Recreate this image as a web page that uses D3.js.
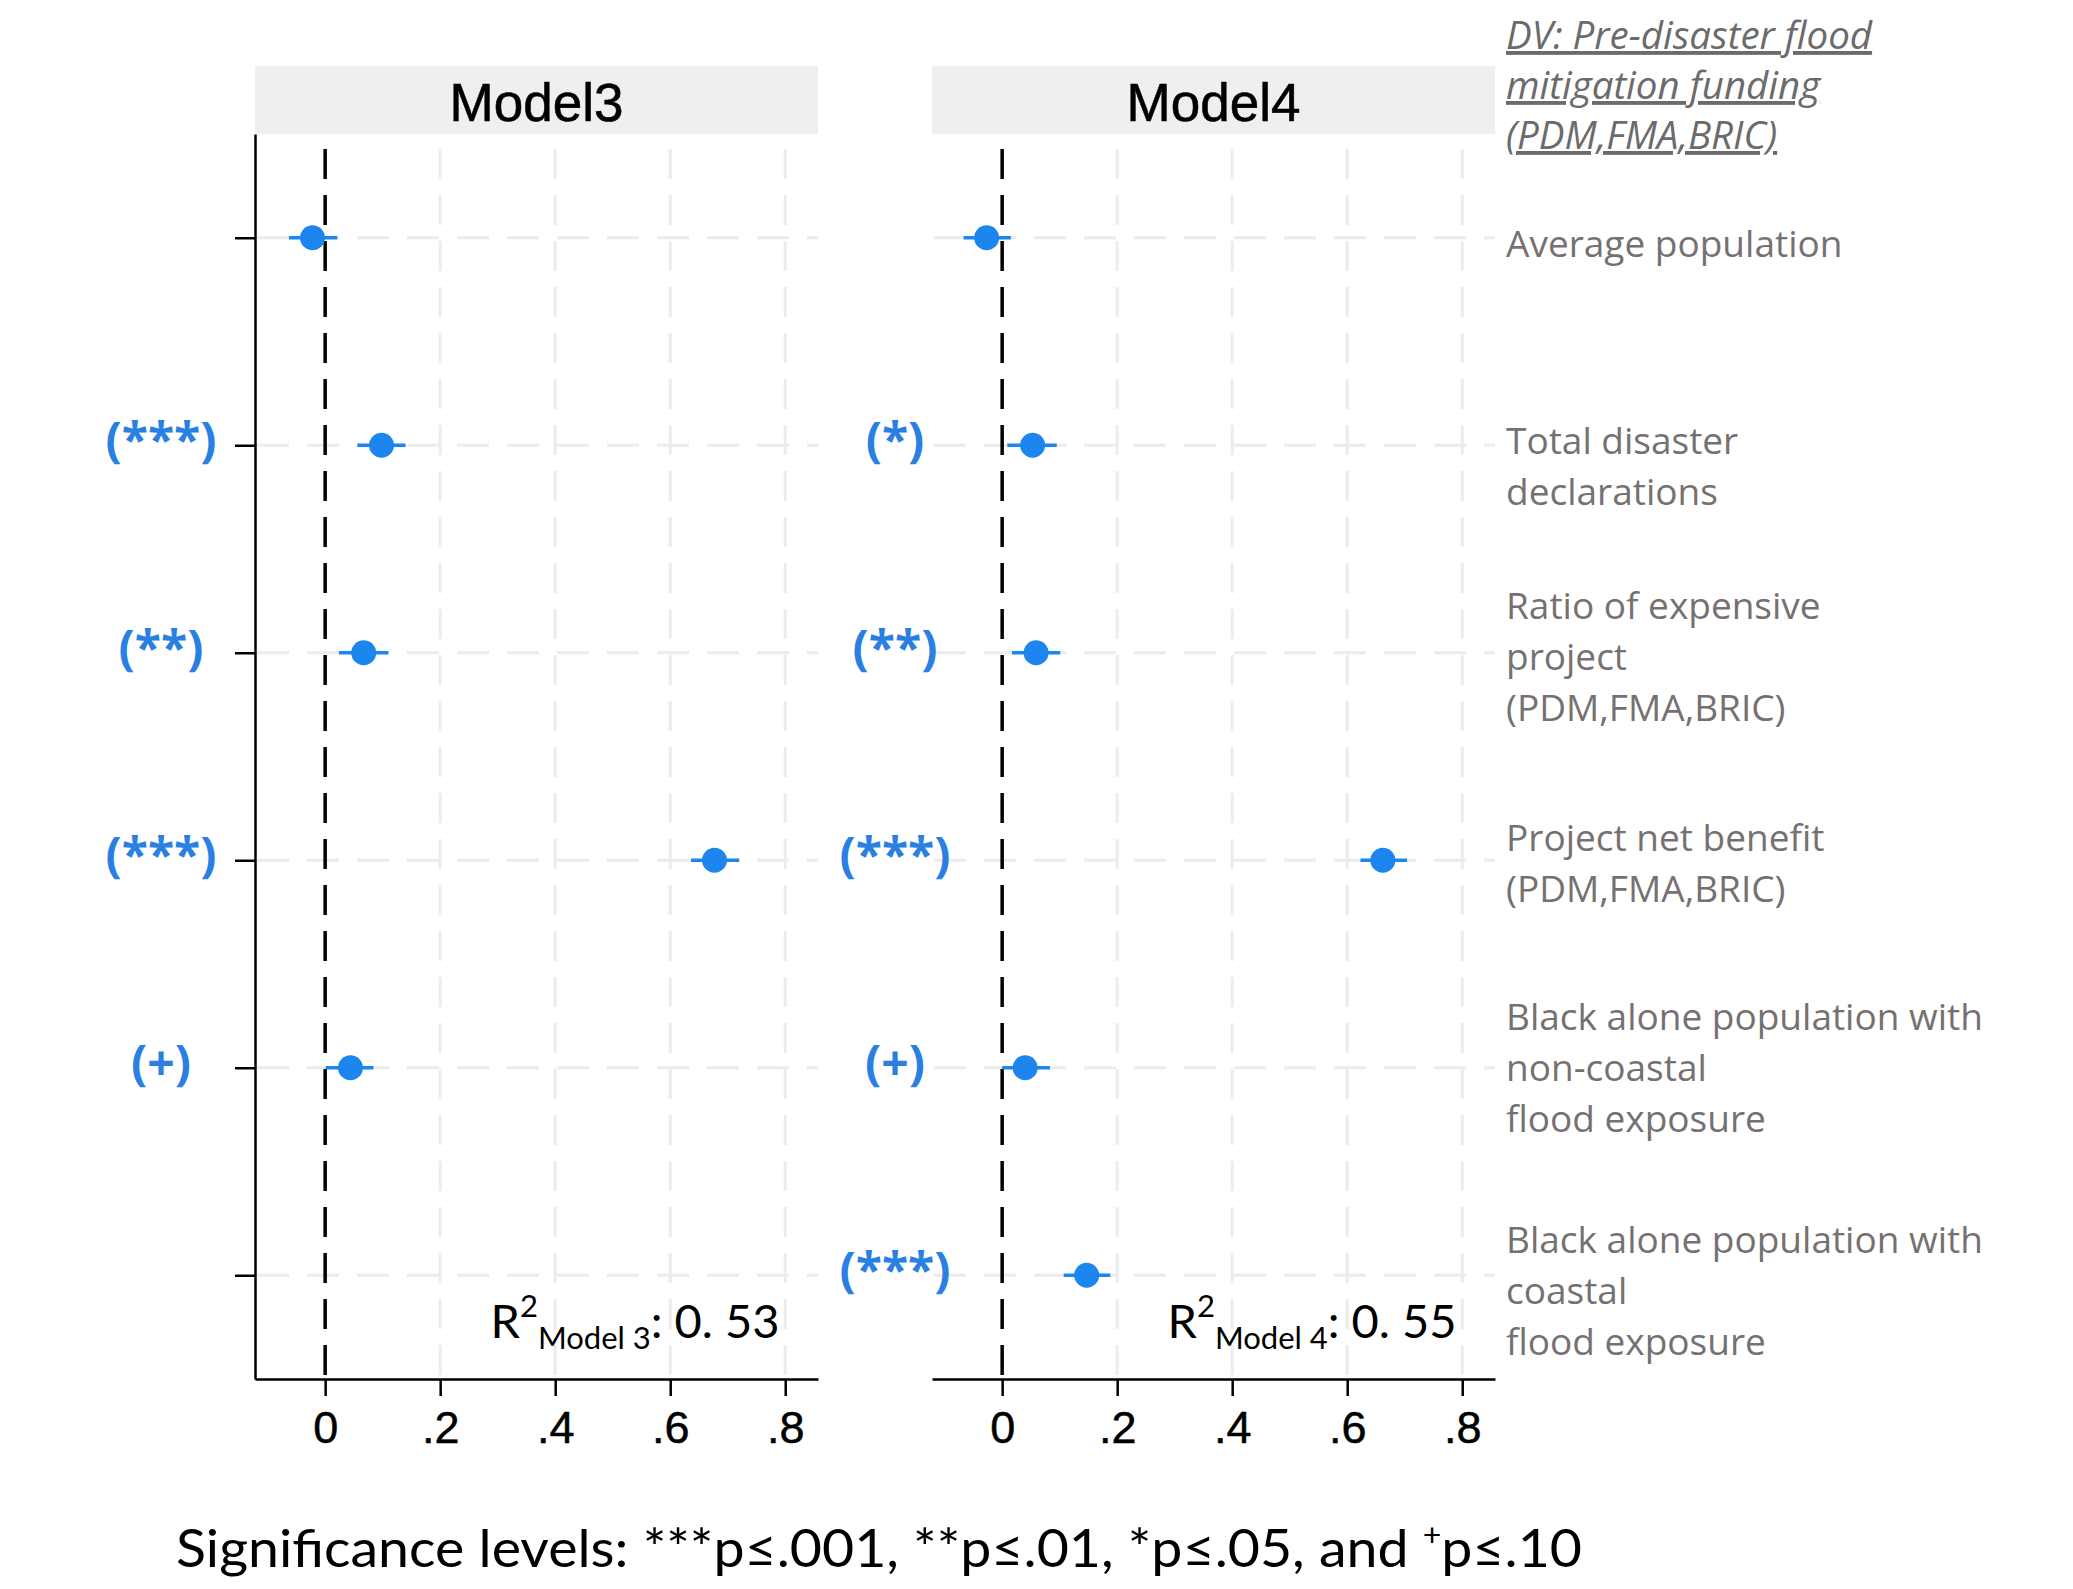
<!DOCTYPE html>
<html>
<head>
<meta charset="utf-8">
<script src="https://cdn.jsdelivr.net/npm/d3@7"></script>
<style>
  html, body { margin: 0; padding: 0; background: #ffffff; }
  svg { display: block; }
</style>
</head>
<body>
<script>
// ---------------- DATA ----------------
const categories = [
  "Average population",
  "Total disaster declarations",
  "Ratio of expensive project (PDM,FMA,BRIC)",
  "Project net benefit (PDM,FMA,BRIC)",
  "Black alone population with non-coastal flood exposure",
  "Black alone population with coastal flood exposure"
];
const categoryLines = [
  ["Average population"],
  ["Total disaster", "declarations"],
  ["Ratio of expensive", "project", "(PDM,FMA,BRIC)"],
  ["Project net benefit", "(PDM,FMA,BRIC)"],
  ["Black alone population with", "non-coastal", "flood exposure"],
  ["Black alone population with", "coastal", "flood exposure"]
];
const models = ["Model3", "Model4"];

const model3Coef = [-0.022, 0.098, 0.067, 0.677, 0.044, null];
const model3Low  = [-0.063, 0.056, 0.024, 0.636, 0.001, null];
const model3High = [ 0.021, 0.140, 0.110, 0.720, 0.084, null];
const model3Sig  = ["", "(***)", "(**)", "(***)", "(+)", ""];

const model4Coef = [-0.027, 0.053, 0.059, 0.662, 0.040, 0.147];
const model4Low  = [-0.067, 0.009, 0.017, 0.623, 0.000, 0.107];
const model4High = [ 0.015, 0.095, 0.101, 0.704, 0.083, 0.188];
const model4Sig  = ["", "(*)", "(**)", "(***)", "(+)", "(***)"];

const r2Subscripts = ["Model 3", "Model 4"];
const r2Values = [": 0. 53", ": 0. 55"];

const xTicks = [0, 0.2, 0.4, 0.6, 0.8];
const xTickLabels = ["0", ".2", ".4", ".6", ".8"];

const dvTitleLines = ["DV: Pre-disaster flood", "mitigation funding", "(PDM,FMA,BRIC)"];
const footnoteParts = ["Significance levels: ***p\u2264.001, **p\u2264.01, *p\u2264.05, and ", "+", "p\u2264.10"];

// ---------------- LAYOUT ----------------
const W = 2073, H = 1589;
const plotTop = 134, plotBottom = 1379, stripTop = 66;
const panels = [
  { x0: 255, x1: 818, sigX: 161 },
  { x0: 932, x1: 1495, sigX: 895 }
];
const coefs = [model3Coef, model4Coef];
const lows = [model3Low, model4Low];
const highs = [model3High, model4High];
const sigs = [model3Sig, model4Sig];

const blue = "#1d86ee";
const labelBlue = "#2a80e2";
const gridColor = "#ececec";

const svg = d3.select("body").append("svg").attr("width", W).attr("height", H);

const y = d3.scalePoint().domain(categories).range([plotTop, plotBottom]).padding(0.5);

models.forEach((m, i) => {
  const p = panels[i];
  const x = d3.scaleLinear().domain([-0.122, 0.857]).range([p.x0, p.x1]);
  const g = svg.append("g");

  // strip
  g.append("rect")
    .attr("x", p.x0).attr("y", stripTop)
    .attr("width", p.x1 - p.x0).attr("height", plotTop - stripTop)
    .attr("fill", "#efefef");
  g.append("text")
    .attr("x", (p.x0 + p.x1) / 2).attr("y", 121)
    .attr("text-anchor", "middle")
    .attr("font-family", "'Liberation Sans', Arial, sans-serif")
    .attr("font-size", 53)
    .attr("fill", "#000")
    .attr("stroke", "#000").attr("stroke-width", 0.6)
    .text(m);

  // vertical grid
  g.selectAll("line.vg").data(xTicks.filter(d => d !== 0)).join("line")
    .attr("class", "vg")
    .attr("x1", d => x(d)).attr("x2", d => x(d))
    .attr("y1", plotTop + 15).attr("y2", plotBottom)
    .attr("stroke", gridColor).attr("stroke-width", 3)
    .attr("stroke-dasharray", "30,16");

  // horizontal grid
  g.selectAll("line.hg").data(categories).join("line")
    .attr("class", "hg")
    .attr("x1", p.x0 + 2).attr("x2", p.x1)
    .attr("y1", d => y(d)).attr("y2", d => y(d))
    .attr("stroke", gridColor).attr("stroke-width", 3)
    .attr("stroke-dasharray", "32,18");

  // zero reference line
  g.append("line")
    .attr("x1", x(0)).attr("x2", x(0))
    .attr("y1", plotTop + 15).attr("y2", plotBottom)
    .attr("stroke", "#000").attr("stroke-width", 3.5)
    .attr("stroke-dasharray", "30,16");

  // x axis
  const xAxis = d3.axisBottom(x).tickValues(xTicks)
    .tickFormat((d, j) => xTickLabels[j])
    .tickSize(17).tickPadding(15).tickSizeOuter(0);
  const gx = g.append("g").attr("transform", `translate(0,${plotBottom})`).call(xAxis);
  gx.select(".domain").attr("stroke", "#000").attr("stroke-width", 2.5);
  gx.selectAll(".tick line").attr("stroke", "#000").attr("stroke-width", 2.5);
  gx.selectAll(".tick text")
    .attr("font-family", "'Liberation Sans', Arial, sans-serif")
    .attr("font-size", 45).attr("fill", "#000")
    .attr("stroke", "#000").attr("stroke-width", 0.5);

  // y axis (only first panel)
  if (i === 0) {
    const yAxis = d3.axisLeft(y).tickSize(20).tickFormat("").tickSizeOuter(0);
    const gy = g.append("g").attr("transform", `translate(${p.x0},0)`).call(yAxis);
    gy.select(".domain").attr("stroke", "#000").attr("stroke-width", 2.5);
    gy.selectAll(".tick line").attr("stroke", "#000").attr("stroke-width", 2.5);
  }

  // estimates
  const rows = categories.map((c, k) => ({
    c, coef: coefs[i][k], lo: lows[i][k], hi: highs[i][k], sig: sigs[i][k]
  }));
  const est = rows.filter(r => r.coef !== null);

  g.selectAll("line.ci").data(est).join("line")
    .attr("class", "ci")
    .attr("x1", r => x(r.lo)).attr("x2", r => x(r.hi))
    .attr("y1", r => y(r.c)).attr("y2", r => y(r.c))
    .attr("stroke", blue).attr("stroke-width", 3.5);
  g.selectAll("circle.pt").data(est).join("circle")
    .attr("class", "pt")
    .attr("cx", r => x(r.coef)).attr("cy", r => y(r.c))
    .attr("r", 12.5).attr("fill", blue);

  // significance labels
  g.selectAll("text.sig").data(rows.filter(r => r.sig)).join("text")
    .attr("class", "sig")
    .attr("x", p.sigX).attr("y", r => y(r.c) + 12)
    .attr("text-anchor", "middle")
    .attr("font-family", "'Open Sans', sans-serif")
    .attr("font-weight", 700)
    .attr("font-size", 48)
    .attr("fill", labelBlue)
    .text(r => r.sig);

  // R^2 annotation
  const r2 = g.append("text")
    .attr("x", x(0.79)).attr("y", plotBottom - 41)
    .attr("text-anchor", "end")
    .attr("font-family", "Lato, 'Open Sans', sans-serif")
    .attr("font-size", 47).attr("fill", "#000");
  r2.append("tspan").text("R");
  r2.append("tspan").attr("font-size", 31).attr("dy", -21).text("2");
  r2.append("tspan").attr("font-size", 31).attr("dy", 32).text(r2Subscripts[i]);
  r2.append("tspan").attr("dy", -11).text(r2Values[i]);
});

// category labels on the right
const labelNudge = [6, 21, 4, 3, 0, 16];
const lineH = 51;
const catG = svg.append("g");
categories.forEach((c, k) => {
  const lines = categoryLines[k];
  const first = y(c) + 13 - (lines.length - 1) * lineH / 2 + labelNudge[k];
  const t = catG.append("text")
    .attr("font-family", "'Open Sans', sans-serif")
    .attr("font-size", 37).attr("fill", "#767171");
  lines.forEach((ln, j) => {
    t.append("tspan").attr("x", 1506).attr("y", first + j * lineH).text(ln);
  });
});

// DV title
const dv = svg.append("text")
  .attr("font-family", "'Open Sans', sans-serif")
  .attr("font-style", "italic")
  .attr("font-size", 38.5).attr("fill", "#6b6b6b")
  .attr("text-decoration", "underline");
dvTitleLines.forEach((ln, j) => {
  dv.append("tspan").attr("x", 1506).attr("y", 49 + j * 50).text(ln);
});

// footnote
const fn = svg.append("text")
  .attr("x", 176).attr("y", 1567)
  .attr("font-family", "Lato, 'Open Sans', sans-serif")
  .attr("font-size", 52).attr("fill", "#000")
  .attr("textLength", 1406).attr("lengthAdjust", "spacingAndGlyphs");
fn.append("tspan").text(footnoteParts[0]);
fn.append("tspan").attr("font-size", 30).attr("dy", -21).text(footnoteParts[1]);
fn.append("tspan").attr("dy", 21).text(footnoteParts[2]);
</script>
</body>
</html>
